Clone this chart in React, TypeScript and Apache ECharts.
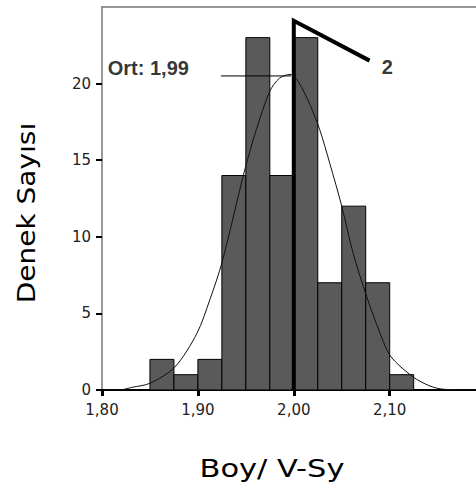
import React, { useEffect, useRef } from "react";
import * as echarts from "echarts";

// Histogram bins: [start, end, count]
const binStarts = [1.85, 1.875, 1.9, 1.925, 1.95, 1.975, 2.0, 2.025, 2.05, 2.075, 2.1];
const binEnds = [1.875, 1.9, 1.925, 1.95, 1.975, 2.0, 2.025, 2.05, 2.075, 2.1, 2.125];
const counts = [2, 1, 2, 14, 23, 14, 23, 7, 12, 7, 1];

// Normal curve points
const curveX = [1.8, 1.82, 1.831, 1.85, 1.876, 1.899, 1.9125, 1.925, 1.949, 1.961, 1.975, 1.985, 1.996, 2.005, 2.017, 2.027, 2.0375, 2.05, 2.062, 2.076, 2.09, 2.101, 2.124, 2.142, 2.156, 2.19];
const curveY = [0, 0.02, 0.17, 0.44, 1.5, 3.7, 5.9, 8.3, 14.4, 17, 19.5, 20.35, 20.6, 20.1, 18.6, 17, 14.8, 12, 8.9, 6.1, 3.7, 2.2, 0.87, 0.26, 0.05, 0];

// Annotations
const targetLineX = [2.0, 2.0, 2.079];
const targetLineY = [0, 24.1, 21.5];
const meanLineX = [1.924, 1.997];
const meanLineY = [20.5, 20.5];
const meanLabel = "Ort: 1,99";
const targetLabel = "2";

const xTitle = "Boy/ V-Sy";
const yTitle = "Denek Sayısı";

export default function App() {
  const ref = useRef<HTMLDivElement>(null);
  useEffect(() => {
    if (!ref.current) return;
    const chart = echarts.init(ref.current, undefined, { renderer: "svg" });
    const barData = binStarts.map((s, i) => [s, binEnds[i], counts[i]]);
    const curveData = curveX.map((x, i) => [x, curveY[i]]);
    const targetData = targetLineX.map((x, i) => [x, targetLineY[i]]);
    const meanData = meanLineX.map((x, i) => [x, meanLineY[i]]);
    const fmt = (v: number) => v.toFixed(2).replace(".", ",");
    chart.setOption({
      animation: false,
      backgroundColor: "#fff",
      grid: { left: 102, right: 0, top: 7, bottom: 98, show: false },
      xAxis: [
        {
          type: "value",
          min: 1.8,
          max: 2.19,
          interval: 0.1,
          position: "bottom",
          splitLine: { show: false },
          axisLine: { show: true, lineStyle: { color: "#000", width: 2 } },
          axisTick: { show: true, length: 6, lineStyle: { color: "#000", width: 3 } },
          axisLabel: {
            margin: 12,
            fontFamily: "DejaVu Sans",
            fontSize: 15,
            color: "#222",
            showMaxLabel: false,
            formatter: (v: number) => fmt(v),
          },
        },
        {
          type: "value",
          min: 1.8,
          max: 2.19,
          position: "top",
          splitLine: { show: false },
          axisLine: { show: true, lineStyle: { color: "#777", width: 1.5 } },
          axisTick: { show: false },
          axisLabel: { show: false },
        },
      ],
      yAxis: {
        type: "value",
        min: 0,
        max: 25,
        interval: 5,
        splitLine: { show: false },
        axisLine: { show: true, lineStyle: { color: "#777", width: 1.5 } },
        axisTick: { show: true, length: 6, lineStyle: { color: "#000", width: 2 } },
        axisLabel: {
          margin: 11,
          fontFamily: "DejaVu Sans",
          fontSize: 15,
          color: "#222",
          showMaxLabel: false,
        },
      },
      series: [
        {
          type: "custom",
          z: 2,
          data: barData,
          encode: { x: [0, 1], y: 2 },
          renderItem: (params: any, api: any) => {
            const s = api.coord([api.value(0), api.value(2)]);
            const e = api.coord([api.value(1), 0]);
            return {
              type: "rect",
              shape: { x: s[0], y: s[1], width: e[0] - s[0], height: e[1] - s[1] },
              style: { fill: "#5a5a5a", stroke: "#000", lineWidth: 1 },
            };
          },
        },
        {
          type: "line",
          z: 3,
          data: curveData,
          smooth: 0.3,
          symbol: "none",
          lineStyle: { color: "#111", width: 1 },
        },
        {
          type: "line",
          z: 4,
          data: meanData,
          symbol: "none",
          lineStyle: { color: "#000", width: 1 },
        },
        {
          type: "line",
          z: 5,
          data: targetData,
          symbol: "none",
          lineStyle: { color: "#000", width: 4, join: "miter" },
        },
        {
          type: "scatter",
          z: 6,
          symbolSize: 0,
          data: [
            { value: [1.806, 21.0], name: meanLabel },
            { value: [2.0917, 21.1], name: targetLabel },
          ],
          label: {
            show: true,
            position: "right",
            distance: 0,
            formatter: (p: any) => p.name,
            fontFamily: "Liberation Sans",
            fontWeight: "bold",
            fontSize: 20,
            color: "#000",
          },
        },
      ],
      graphic: [
        {
          type: "text",
          x: 272,
          y: 468,
          scaleX: 1.22,
          style: {
            text: xTitle,
            fontFamily: "DejaVu Sans",
            fontSize: 25,
            fill: "#000",
            align: "center",
            verticalAlign: "middle",
          },
        },
        {
          type: "text",
          x: 26,
          y: 213,
          rotation: Math.PI / 2,
          scaleX: 1.12,
          style: {
            text: yTitle,
            fontFamily: "DejaVu Sans",
            fontSize: 25,
            fill: "#000",
            align: "center",
            verticalAlign: "middle",
          },
        },
      ],
    });
    return () => chart.dispose();
  }, []);
  return <div ref={ref} style={{ width: 476, height: 488, position: "absolute", left: 0, top: 0 }} />;
}
